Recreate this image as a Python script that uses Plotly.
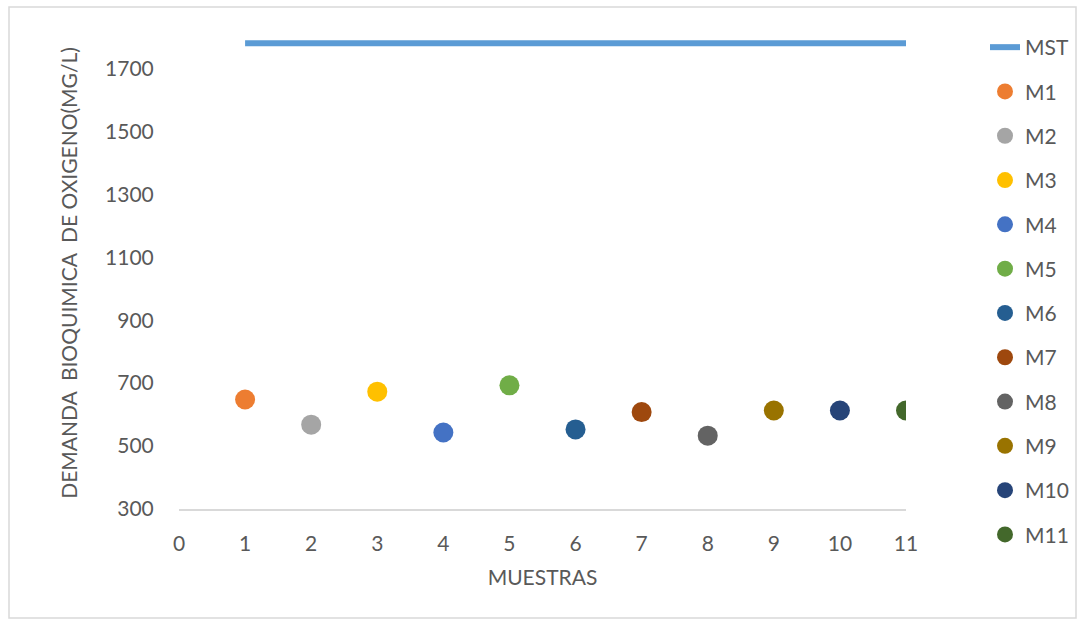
import plotly.graph_objects as go

names = ["M1", "M2", "M3", "M4", "M5", "M6", "M7", "M8", "M9", "M10", "M11"]
muestras = [1, 2, 3, 4, 5, 6, 7, 8, 9, 10, 11]
dbo = [648, 568, 673, 543, 693, 553, 608, 533, 613, 613, 613]
colors = ["#ED7D31", "#A5A5A5", "#FFC000", "#4472C4", "#70AD47", "#255E91",
          "#9E480E", "#636363", "#997300", "#264478", "#43682B"]
mst_x = [1, 11]
mst_y = [1780, 1780]

fig = go.Figure()
fig.add_trace(go.Scatter(x=mst_x, y=mst_y, mode="lines", name="MST", legendgroup="MST",
                         line=dict(color="#5B9BD5", width=6)))
for n, x, y, c in zip(names, muestras, dbo, colors):
    fig.add_trace(go.Scatter(x=[x], y=[y], mode="markers", name=n, legendgroup=n,
                             marker=dict(color=c, size=20)))

font_main = "Lato, Open Sans, sans-serif"
fs = 21
fig.update_layout(
    width=1081, height=621,
    margin=dict(l=179, r=175, t=37, b=112, autoexpand=False),
    paper_bgcolor="white", plot_bgcolor="white",
    font=dict(family=font_main, color="#595959", size=fs),
    showlegend=True,
    legend=dict(x=(985 - 179) / 727, y=(509 - 27) / 472,
                xanchor="left", yanchor="top", maxheight=580,
                font=dict(size=fs, color="#595959"), tracegroupgap=14,
                itemwidth=30),
    xaxis=dict(range=[0, 11], tickvals=list(range(0, 12)), showgrid=False,
               zeroline=False, showline=True, linecolor="#D9D9D9", linewidth=1.5,
               ticks="outside", ticklen=15, tickcolor="rgba(0,0,0,0)",
               title=dict(text="MUESTRAS", font=dict(size=fs, color="#595959"), standoff=16)),
    yaxis=dict(range=[300, 1800], tickvals=[300, 500, 700, 900, 1100, 1300, 1500, 1700],
               showgrid=False, zeroline=False, showline=False,
               ticks="outside", ticklen=20, tickcolor="rgba(0,0,0,0)",
               title=dict(text="DEMANDA  BIOQUIMICA  DE OXIGENO(MG/L)",
                          font=dict(size=fs, color="#595959"), standoff=21)),
    shapes=[dict(type="rect", xref="paper", yref="paper",
                 x0=(9 - 179) / 727, x1=(1076 - 179) / 727,
                 y0=(509 - 618) / 472, y1=(509 - 7) / 472,
                 line=dict(color="#D9D9D9", width=1.5), fillcolor="rgba(0,0,0,0)",
                 layer="below")],
)

fig.write_html("out.html")
